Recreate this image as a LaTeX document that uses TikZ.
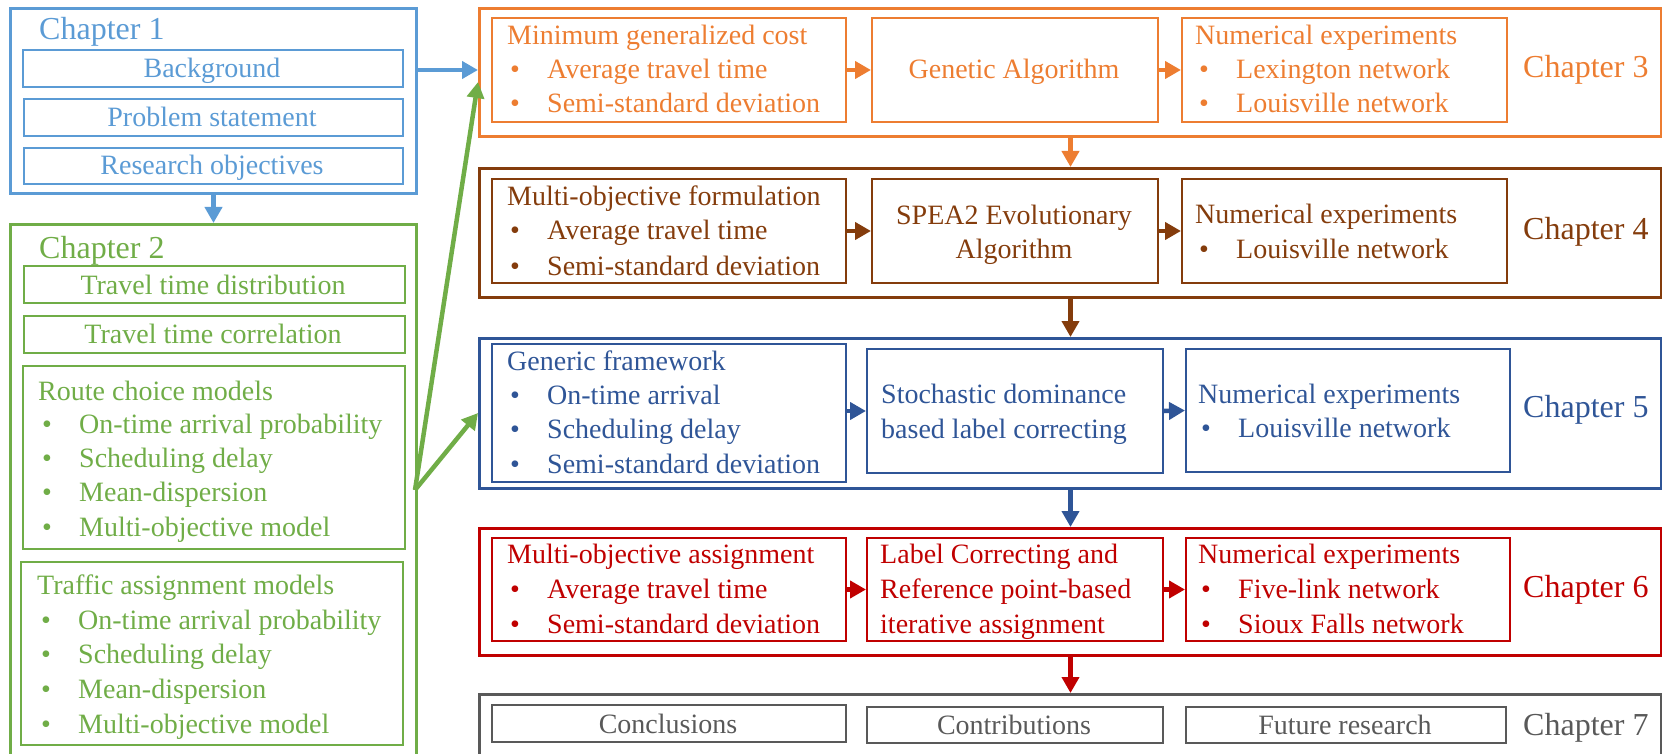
\documentclass[tikz,border=0pt]{standalone}
\usepackage{fontspec}
\setmainfont{Liberation Serif}
\usetikzlibrary{arrows.meta}
\definecolor{cA}{HTML}{5B9BD5}
\definecolor{cB}{HTML}{70AD47}
\definecolor{cC}{HTML}{ED7D31}
\definecolor{cD}{HTML}{843C0C}
\definecolor{cE}{HTML}{2F5597}
\definecolor{cF}{HTML}{C00000}
\definecolor{cG}{HTML}{595959}
\newcommand\bodyfont{\fontsize{28}{34}\selectfont}
\newcommand\chapfont{\fontsize{32}{38}\selectfont}
\newcommand\bul{\makebox[37pt][l]{•}}
\newcommand\bx[6]{\node[#1, minimum width={(#5-#3)*1pt}, minimum height={(#6-#4)*1pt}] (#2) at (#3,#4) {};}
\tikzset{
  outerbox/.style={draw, line width=3pt, inner sep=0pt, anchor=north west},
  innerbox/.style={draw, line width=2pt, inner sep=0pt, anchor=north west},
  ln/.style={inner sep=0pt, anchor=base west, font=\bodyfont},
  ctr/.style={inner sep=0pt, anchor=base, font=\bodyfont},
  chap/.style={inner sep=0pt, anchor=base west, font=\chapfont},
  arr/.style={line width=4.5pt, -{Triangle[length=16pt,width=17pt]}},
}
\begin{document}
\begin{tikzpicture}[x=1pt,y=-1pt]
\useasboundingbox (0,0) rectangle (1662,754);
% Chapter 1
\begin{scope}[color=cA]
\bx{outerbox}{c1}{9}{7}{415}{192}
\bx{innerbox}{c1a}{22}{49}{402}{86}
\bx{innerbox}{c1b}{23}{98}{402}{135}
\bx{innerbox}{c1c}{23}{147}{402}{183}
\node[chap] (t1) at (39,40) {Chapter 1};
\node[ctr] (t1a) at (212,78) {Background};
\node[ctr] (t1b) at (212,127) {Problem statement};
\node[ctr] (t1c) at (212,175) {Research objectives};
\end{scope}
% Chapter 2
\begin{scope}[color=cB]
\bx{outerbox}{c2}{9}{223}{415}{800}
\bx{innerbox}{c2a}{23}{265}{404}{302}
\bx{innerbox}{c2b}{23}{315}{404}{352}
\bx{innerbox}{c2c}{22}{365}{404}{548}
\bx{innerbox}{c2d}{20}{561}{402}{744}
\node[chap] (t2) at (39,258) {Chapter 2};
\node[ctr] (t2a) at (213,294) {Travel time distribution};
\node[ctr] (t2b) at (213,343) {Travel time correlation};
\node[ln] (t2c0) at (38,400) {Route choice models};
\node[ln] (t2c1) at (42,433) {\bul On-time arrival probability};
\node[ln] (t2c2) at (42,467) {\bul Scheduling delay};
\node[ln] (t2c3) at (42,501) {\bul Mean-dispersion};
\node[ln] (t2c4) at (42,536) {\bul Multi-objective model};
\node[ln] (t2d0) at (37,594) {Traffic assignment models};
\node[ln] (t2d1) at (41,629) {\bul On-time arrival probability};
\node[ln] (t2d2) at (41,663) {\bul Scheduling delay};
\node[ln] (t2d3) at (41,698) {\bul Mean-dispersion};
\node[ln] (t2d4) at (41,733) {\bul Multi-objective model};
\end{scope}
% Chapter 3
\begin{scope}[color=cC]
\bx{outerbox}{c3}{478}{7}{1660}{135}
\bx{innerbox}{c3a}{491}{17}{845}{121}
\bx{innerbox}{c3b}{871}{17}{1157}{121}
\bx{innerbox}{c3c}{1181}{17}{1506}{121}
\node[chap] (t3) at (1523,78) {Chapter 3};
\node[ln] (t3a0) at (507,45) {Minimum generalized cost};
\node[ln] (t3a1) at (510,79) {\bul Average travel time};
\node[ln] (t3a2) at (510,113) {\bul Semi-standard deviation};
\node[ctr] (t3b) at (1014,79) {Genetic Algorithm};
\node[ln] (t3c0) at (1195,45) {Numerical experiments};
\node[ln] (t3c1) at (1199,79) {\bul Lexington network};
\node[ln] (t3c2) at (1199,113) {\bul Louisville network};
\draw[arr] (c3a.east) -- (c3b.west);
\draw[arr] (c3b.east) -- (c3c.west);
\end{scope}
% Chapter 4
\begin{scope}[color=cD]
\bx{outerbox}{c4}{478}{167}{1660}{296}
\bx{innerbox}{c4a}{491}{178}{845}{282}
\bx{innerbox}{c4b}{871}{178}{1157}{282}
\bx{innerbox}{c4c}{1181}{178}{1506}{282}
\node[chap] (t4) at (1523,240) {Chapter 4};
\node[ln] (t4a0) at (507,206) {Multi-objective formulation};
\node[ln] (t4a1) at (510,240) {\bul Average travel time};
\node[ln] (t4a2) at (510,275) {\bul Semi-standard deviation};
\node[ctr] (t4b1) at (1014,225) {SPEA2 Evolutionary};
\node[ctr] (t4b2) at (1014,258) {Algorithm};
\node[ln] (t4c0) at (1195,223) {Numerical experiments};
\node[ln] (t4c1) at (1199,258) {\bul Louisville network};
\draw[arr] (c4a.east) -- (c4b.west);
\draw[arr] (c4b.east) -- (c4c.west);
\end{scope}
% Chapter 5
\begin{scope}[color=cE]
\bx{outerbox}{c5}{478}{337}{1660}{487}
\bx{innerbox}{c5a}{491}{343}{845}{481}
\bx{innerbox}{c5b}{866}{348}{1162}{472}
\bx{innerbox}{c5c}{1185}{348}{1509}{471}
\node[chap] (t5) at (1523,417) {Chapter 5};
\node[ln] (t5a0) at (507,370) {Generic framework};
\node[ln] (t5a1) at (510,404) {\bul On-time arrival};
\node[ln] (t5a2) at (510,438) {\bul Scheduling delay};
\node[ln] (t5a3) at (510,473) {\bul Semi-standard deviation};
\node[ln] (t5b1) at (881,403) {Stochastic dominance};
\node[ln] (t5b2) at (881,438) {based label correcting};
\node[ln] (t5c0) at (1198,403) {Numerical experiments};
\node[ln] (t5c1) at (1201,437) {\bul Louisville network};
\draw[arr] (c5a.east |- c5b.west) -- (c5b.west);
\draw[arr] (c5b.east) -- (c5c.west);
\end{scope}
% Chapter 6
\begin{scope}[color=cF]
\bx{outerbox}{c6}{478}{527}{1660}{654}
\bx{innerbox}{c6a}{491}{537}{845}{640}
\bx{innerbox}{c6b}{866}{537}{1162}{640}
\bx{innerbox}{c6c}{1185}{537}{1509}{640}
\node[chap] (t6) at (1523,597) {Chapter 6};
\node[ln] (t6a0) at (507,563) {Multi-objective assignment};
\node[ln] (t6a1) at (510,598) {\bul Average travel time};
\node[ln] (t6a2) at (510,633) {\bul Semi-standard deviation};
\node[ln] (t6b1) at (880,563) {Label Correcting and};
\node[ln] (t6b2) at (880,598) {Reference point-based};
\node[ln] (t6b3) at (880,633) {iterative assignment};
\node[ln] (t6c0) at (1198,563) {Numerical experiments};
\node[ln] (t6c1) at (1201,598) {\bul Five-link network};
\node[ln] (t6c2) at (1201,633) {\bul Sioux Falls network};
\draw[arr] (c6a.east) -- (c6b.west);
\draw[arr] (c6b.east) -- (c6c.west);
\end{scope}
% Chapter 7
\begin{scope}[color=cG]
\bx{outerbox}{c7}{478}{693}{1660}{800}
\bx{innerbox}{c7a}{491}{704}{845}{741}
\bx{innerbox}{c7b}{866}{706}{1162}{742}
\bx{innerbox}{c7c}{1185}{706}{1505}{742}
\node[chap] (t7) at (1523,735) {Chapter 7};
\node[ctr] (t7a) at (668,733) {Conclusions};
\node[ctr] (t7b) at (1014,734) {Contributions};
\node[ctr] (t7c) at (1345,734) {Future research};
\end{scope}
% Connectors between chapters
\draw[arr, cA] (c1.east |- c3a.west) -- (c3.west |- c3a.west);
\draw[arr, cA] (c1.south) -- (c2.north);
\coordinate (g0) at (415,490);
\draw[arr, cB] (g0) -- ([yshift=-75pt]c3.north west);
\draw[arr, cB] (g0) -- ([yshift=-76pt]c5.north west);
\draw[arr, cC] (c3.south) -- (c4.north);
\draw[arr, cD] (c4.south) -- (c5.north);
\draw[arr, cE] (c5.south) -- (c6.north);
\draw[arr, cF] (c6.south) -- (c7.north);
\end{tikzpicture}
\end{document}
